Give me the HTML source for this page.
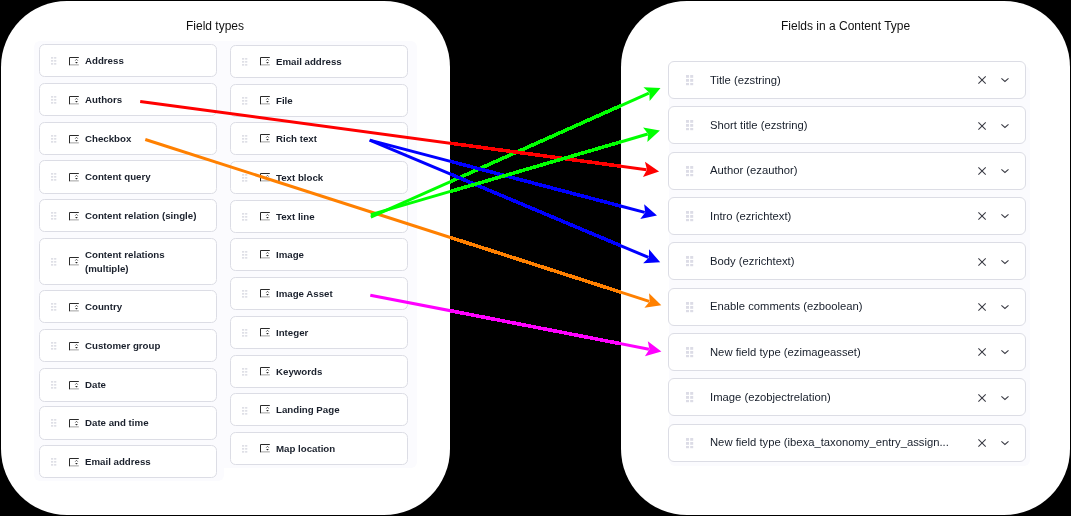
<!DOCTYPE html>
<html><head><meta charset="utf-8"><style>
*{margin:0;padding:0;box-sizing:border-box}
html,body{width:1071px;height:516px;overflow:hidden;background:#000;font-family:"Liberation Sans",sans-serif}
.panel{position:absolute;top:1px;width:449px;height:514px;background:#fff;border-radius:66px}
.ttl{position:absolute;will-change:transform;font-size:12px;color:#111;line-height:14px;white-space:nowrap}
.tint{position:absolute;background:#fbfbfe}
.card{position:absolute;background:#fff;border:1px solid #dcdde5;border-radius:5.5px}
.ab{position:absolute}
.lbl{position:absolute;will-change:transform;font-weight:700;font-size:9.7px;color:#1a202c;line-height:11.6px;white-space:nowrap}
.flbl{position:absolute;will-change:transform;font-size:11.25px;color:#171e2a;line-height:13px;white-space:nowrap}
</style></head><body>

<div class="panel" style="left:1px"></div>
<div class="panel" style="left:621px"></div>
<div class="ttl" style="left:186px;top:18.8px">Field types</div>
<div class="ttl" style="left:780.5px;top:18.8px">Fields in a Content Type</div>
<div class="tint" style="left:34px;top:40.5px;width:190px;height:440px;border-radius:6px"></div>
<div class="tint" style="left:200px;top:40.5px;width:217px;height:427px;border-radius:6px"></div>
<div class="tint" style="left:669px;top:66px;width:361px;height:400px;border-radius:6px"></div>
<div class="card" style="left:39.00px;top:43.80px;width:178px;height:33.60px"></div><svg class="ab" style="left:51.20px;top:57.20px" width="6" height="8" viewBox="0 0 6 8"><g fill="#dedfe6"><rect x="0" y="0" width="2.2" height="1.7"/><rect x="3.1" y="0" width="2.2" height="1.7"/><rect x="0" y="3" width="2.2" height="1.7"/><rect x="3.1" y="3" width="2.2" height="1.7"/><rect x="0" y="6" width="2.2" height="1.7"/><rect x="3.1" y="6" width="2.2" height="1.7"/></g></svg><svg class="ab" style="left:69.10px;top:57.00px" width="11" height="10" viewBox="0 0 11 10"><rect x="0" y="7" width="9.8" height="1.6" fill="#c4c4c4"/><path d="M0.5 8.2V0.5H9.8" fill="none" stroke="#2a2a2a" stroke-width="1"/><path d="M6.3 3.6L7.5 2.3L8.7 3.6" fill="none" stroke="#444" stroke-width="0.9"/><path d="M6.1 4.9H8.9L7.5 6.5Z" fill="#2a2a2a"/></svg><div class="lbl" style="left:84.90px;top:54.88px">Address</div>
<div class="card" style="left:39.00px;top:82.90px;width:178px;height:33.60px"></div><svg class="ab" style="left:51.20px;top:96.30px" width="6" height="8" viewBox="0 0 6 8"><g fill="#dedfe6"><rect x="0" y="0" width="2.2" height="1.7"/><rect x="3.1" y="0" width="2.2" height="1.7"/><rect x="0" y="3" width="2.2" height="1.7"/><rect x="3.1" y="3" width="2.2" height="1.7"/><rect x="0" y="6" width="2.2" height="1.7"/><rect x="3.1" y="6" width="2.2" height="1.7"/></g></svg><svg class="ab" style="left:69.10px;top:96.10px" width="11" height="10" viewBox="0 0 11 10"><rect x="0" y="7" width="9.8" height="1.6" fill="#c4c4c4"/><path d="M0.5 8.2V0.5H9.8" fill="none" stroke="#2a2a2a" stroke-width="1"/><path d="M6.3 3.6L7.5 2.3L8.7 3.6" fill="none" stroke="#444" stroke-width="0.9"/><path d="M6.1 4.9H8.9L7.5 6.5Z" fill="#2a2a2a"/></svg><div class="lbl" style="left:84.90px;top:93.98px">Authors</div>
<div class="card" style="left:39.00px;top:121.90px;width:178px;height:33.60px"></div><svg class="ab" style="left:51.20px;top:135.30px" width="6" height="8" viewBox="0 0 6 8"><g fill="#dedfe6"><rect x="0" y="0" width="2.2" height="1.7"/><rect x="3.1" y="0" width="2.2" height="1.7"/><rect x="0" y="3" width="2.2" height="1.7"/><rect x="3.1" y="3" width="2.2" height="1.7"/><rect x="0" y="6" width="2.2" height="1.7"/><rect x="3.1" y="6" width="2.2" height="1.7"/></g></svg><svg class="ab" style="left:69.10px;top:135.10px" width="11" height="10" viewBox="0 0 11 10"><rect x="0" y="7" width="9.8" height="1.6" fill="#c4c4c4"/><path d="M0.5 8.2V0.5H9.8" fill="none" stroke="#2a2a2a" stroke-width="1"/><path d="M6.3 3.6L7.5 2.3L8.7 3.6" fill="none" stroke="#444" stroke-width="0.9"/><path d="M6.1 4.9H8.9L7.5 6.5Z" fill="#2a2a2a"/></svg><div class="lbl" style="left:84.90px;top:132.98px">Checkbox</div>
<div class="card" style="left:39.00px;top:160.00px;width:178px;height:33.60px"></div><svg class="ab" style="left:51.20px;top:173.40px" width="6" height="8" viewBox="0 0 6 8"><g fill="#dedfe6"><rect x="0" y="0" width="2.2" height="1.7"/><rect x="3.1" y="0" width="2.2" height="1.7"/><rect x="0" y="3" width="2.2" height="1.7"/><rect x="3.1" y="3" width="2.2" height="1.7"/><rect x="0" y="6" width="2.2" height="1.7"/><rect x="3.1" y="6" width="2.2" height="1.7"/></g></svg><svg class="ab" style="left:69.10px;top:173.20px" width="11" height="10" viewBox="0 0 11 10"><rect x="0" y="7" width="9.8" height="1.6" fill="#c4c4c4"/><path d="M0.5 8.2V0.5H9.8" fill="none" stroke="#2a2a2a" stroke-width="1"/><path d="M6.3 3.6L7.5 2.3L8.7 3.6" fill="none" stroke="#444" stroke-width="0.9"/><path d="M6.1 4.9H8.9L7.5 6.5Z" fill="#2a2a2a"/></svg><div class="lbl" style="left:84.90px;top:171.08px">Content query</div>
<div class="card" style="left:39.00px;top:198.90px;width:178px;height:33.60px"></div><svg class="ab" style="left:51.20px;top:212.30px" width="6" height="8" viewBox="0 0 6 8"><g fill="#dedfe6"><rect x="0" y="0" width="2.2" height="1.7"/><rect x="3.1" y="0" width="2.2" height="1.7"/><rect x="0" y="3" width="2.2" height="1.7"/><rect x="3.1" y="3" width="2.2" height="1.7"/><rect x="0" y="6" width="2.2" height="1.7"/><rect x="3.1" y="6" width="2.2" height="1.7"/></g></svg><svg class="ab" style="left:69.10px;top:212.10px" width="11" height="10" viewBox="0 0 11 10"><rect x="0" y="7" width="9.8" height="1.6" fill="#c4c4c4"/><path d="M0.5 8.2V0.5H9.8" fill="none" stroke="#2a2a2a" stroke-width="1"/><path d="M6.3 3.6L7.5 2.3L8.7 3.6" fill="none" stroke="#444" stroke-width="0.9"/><path d="M6.1 4.9H8.9L7.5 6.5Z" fill="#2a2a2a"/></svg><div class="lbl" style="left:84.90px;top:209.98px">Content relation (single)</div>
<div class="card" style="left:39.00px;top:237.90px;width:178px;height:46.80px"></div><svg class="ab" style="left:51.20px;top:257.90px" width="6" height="8" viewBox="0 0 6 8"><g fill="#dedfe6"><rect x="0" y="0" width="2.2" height="1.7"/><rect x="3.1" y="0" width="2.2" height="1.7"/><rect x="0" y="3" width="2.2" height="1.7"/><rect x="3.1" y="3" width="2.2" height="1.7"/><rect x="0" y="6" width="2.2" height="1.7"/><rect x="3.1" y="6" width="2.2" height="1.7"/></g></svg><svg class="ab" style="left:69.10px;top:256.90px" width="11" height="10" viewBox="0 0 11 10"><rect x="0" y="7" width="9.8" height="1.6" fill="#c4c4c4"/><path d="M0.5 8.2V0.5H9.8" fill="none" stroke="#2a2a2a" stroke-width="1"/><path d="M6.3 3.6L7.5 2.3L8.7 3.6" fill="none" stroke="#444" stroke-width="0.9"/><path d="M6.1 4.9H8.9L7.5 6.5Z" fill="#2a2a2a"/></svg><div class="lbl" style="left:84.90px;top:247.80px;line-height:14px">Content relations<br>(multiple)</div>
<div class="card" style="left:39.00px;top:289.80px;width:178px;height:33.60px"></div><svg class="ab" style="left:51.20px;top:303.20px" width="6" height="8" viewBox="0 0 6 8"><g fill="#dedfe6"><rect x="0" y="0" width="2.2" height="1.7"/><rect x="3.1" y="0" width="2.2" height="1.7"/><rect x="0" y="3" width="2.2" height="1.7"/><rect x="3.1" y="3" width="2.2" height="1.7"/><rect x="0" y="6" width="2.2" height="1.7"/><rect x="3.1" y="6" width="2.2" height="1.7"/></g></svg><svg class="ab" style="left:69.10px;top:303.00px" width="11" height="10" viewBox="0 0 11 10"><rect x="0" y="7" width="9.8" height="1.6" fill="#c4c4c4"/><path d="M0.5 8.2V0.5H9.8" fill="none" stroke="#2a2a2a" stroke-width="1"/><path d="M6.3 3.6L7.5 2.3L8.7 3.6" fill="none" stroke="#444" stroke-width="0.9"/><path d="M6.1 4.9H8.9L7.5 6.5Z" fill="#2a2a2a"/></svg><div class="lbl" style="left:84.90px;top:300.88px">Country</div>
<div class="card" style="left:39.00px;top:328.80px;width:178px;height:33.60px"></div><svg class="ab" style="left:51.20px;top:342.20px" width="6" height="8" viewBox="0 0 6 8"><g fill="#dedfe6"><rect x="0" y="0" width="2.2" height="1.7"/><rect x="3.1" y="0" width="2.2" height="1.7"/><rect x="0" y="3" width="2.2" height="1.7"/><rect x="3.1" y="3" width="2.2" height="1.7"/><rect x="0" y="6" width="2.2" height="1.7"/><rect x="3.1" y="6" width="2.2" height="1.7"/></g></svg><svg class="ab" style="left:69.10px;top:342.00px" width="11" height="10" viewBox="0 0 11 10"><rect x="0" y="7" width="9.8" height="1.6" fill="#c4c4c4"/><path d="M0.5 8.2V0.5H9.8" fill="none" stroke="#2a2a2a" stroke-width="1"/><path d="M6.3 3.6L7.5 2.3L8.7 3.6" fill="none" stroke="#444" stroke-width="0.9"/><path d="M6.1 4.9H8.9L7.5 6.5Z" fill="#2a2a2a"/></svg><div class="lbl" style="left:84.90px;top:339.88px">Customer group</div>
<div class="card" style="left:39.00px;top:368.00px;width:178px;height:33.60px"></div><svg class="ab" style="left:51.20px;top:381.40px" width="6" height="8" viewBox="0 0 6 8"><g fill="#dedfe6"><rect x="0" y="0" width="2.2" height="1.7"/><rect x="3.1" y="0" width="2.2" height="1.7"/><rect x="0" y="3" width="2.2" height="1.7"/><rect x="3.1" y="3" width="2.2" height="1.7"/><rect x="0" y="6" width="2.2" height="1.7"/><rect x="3.1" y="6" width="2.2" height="1.7"/></g></svg><svg class="ab" style="left:69.10px;top:381.20px" width="11" height="10" viewBox="0 0 11 10"><rect x="0" y="7" width="9.8" height="1.6" fill="#c4c4c4"/><path d="M0.5 8.2V0.5H9.8" fill="none" stroke="#2a2a2a" stroke-width="1"/><path d="M6.3 3.6L7.5 2.3L8.7 3.6" fill="none" stroke="#444" stroke-width="0.9"/><path d="M6.1 4.9H8.9L7.5 6.5Z" fill="#2a2a2a"/></svg><div class="lbl" style="left:84.90px;top:379.08px">Date</div>
<div class="card" style="left:39.00px;top:406.00px;width:178px;height:33.60px"></div><svg class="ab" style="left:51.20px;top:419.40px" width="6" height="8" viewBox="0 0 6 8"><g fill="#dedfe6"><rect x="0" y="0" width="2.2" height="1.7"/><rect x="3.1" y="0" width="2.2" height="1.7"/><rect x="0" y="3" width="2.2" height="1.7"/><rect x="3.1" y="3" width="2.2" height="1.7"/><rect x="0" y="6" width="2.2" height="1.7"/><rect x="3.1" y="6" width="2.2" height="1.7"/></g></svg><svg class="ab" style="left:69.10px;top:419.20px" width="11" height="10" viewBox="0 0 11 10"><rect x="0" y="7" width="9.8" height="1.6" fill="#c4c4c4"/><path d="M0.5 8.2V0.5H9.8" fill="none" stroke="#2a2a2a" stroke-width="1"/><path d="M6.3 3.6L7.5 2.3L8.7 3.6" fill="none" stroke="#444" stroke-width="0.9"/><path d="M6.1 4.9H8.9L7.5 6.5Z" fill="#2a2a2a"/></svg><div class="lbl" style="left:84.90px;top:417.08px">Date and time</div>
<div class="card" style="left:39.00px;top:444.90px;width:178px;height:33.60px"></div><svg class="ab" style="left:51.20px;top:458.30px" width="6" height="8" viewBox="0 0 6 8"><g fill="#dedfe6"><rect x="0" y="0" width="2.2" height="1.7"/><rect x="3.1" y="0" width="2.2" height="1.7"/><rect x="0" y="3" width="2.2" height="1.7"/><rect x="3.1" y="3" width="2.2" height="1.7"/><rect x="0" y="6" width="2.2" height="1.7"/><rect x="3.1" y="6" width="2.2" height="1.7"/></g></svg><svg class="ab" style="left:69.10px;top:458.10px" width="11" height="10" viewBox="0 0 11 10"><rect x="0" y="7" width="9.8" height="1.6" fill="#c4c4c4"/><path d="M0.5 8.2V0.5H9.8" fill="none" stroke="#2a2a2a" stroke-width="1"/><path d="M6.3 3.6L7.5 2.3L8.7 3.6" fill="none" stroke="#444" stroke-width="0.9"/><path d="M6.1 4.9H8.9L7.5 6.5Z" fill="#2a2a2a"/></svg><div class="lbl" style="left:84.90px;top:455.98px">Email address</div>
<div class="card" style="left:230.00px;top:44.70px;width:178px;height:33.20px"></div><svg class="ab" style="left:242.20px;top:57.90px" width="6" height="8" viewBox="0 0 6 8"><g fill="#dedfe6"><rect x="0" y="0" width="2.2" height="1.7"/><rect x="3.1" y="0" width="2.2" height="1.7"/><rect x="0" y="3" width="2.2" height="1.7"/><rect x="3.1" y="3" width="2.2" height="1.7"/><rect x="0" y="6" width="2.2" height="1.7"/><rect x="3.1" y="6" width="2.2" height="1.7"/></g></svg><svg class="ab" style="left:260.10px;top:56.70px" width="11" height="10" viewBox="0 0 11 10"><rect x="0" y="7" width="9.8" height="1.6" fill="#c4c4c4"/><path d="M0.5 8.2V0.5H9.8" fill="none" stroke="#2a2a2a" stroke-width="1"/><path d="M6.3 3.6L7.5 2.3L8.7 3.6" fill="none" stroke="#444" stroke-width="0.9"/><path d="M6.1 4.9H8.9L7.5 6.5Z" fill="#2a2a2a"/></svg><div class="lbl" style="left:275.90px;top:55.88px">Email address</div>
<div class="card" style="left:230.00px;top:83.70px;width:178px;height:33.20px"></div><svg class="ab" style="left:242.20px;top:96.90px" width="6" height="8" viewBox="0 0 6 8"><g fill="#dedfe6"><rect x="0" y="0" width="2.2" height="1.7"/><rect x="3.1" y="0" width="2.2" height="1.7"/><rect x="0" y="3" width="2.2" height="1.7"/><rect x="3.1" y="3" width="2.2" height="1.7"/><rect x="0" y="6" width="2.2" height="1.7"/><rect x="3.1" y="6" width="2.2" height="1.7"/></g></svg><svg class="ab" style="left:260.10px;top:95.70px" width="11" height="10" viewBox="0 0 11 10"><rect x="0" y="7" width="9.8" height="1.6" fill="#c4c4c4"/><path d="M0.5 8.2V0.5H9.8" fill="none" stroke="#2a2a2a" stroke-width="1"/><path d="M6.3 3.6L7.5 2.3L8.7 3.6" fill="none" stroke="#444" stroke-width="0.9"/><path d="M6.1 4.9H8.9L7.5 6.5Z" fill="#2a2a2a"/></svg><div class="lbl" style="left:275.90px;top:94.88px">File</div>
<div class="card" style="left:230.00px;top:121.90px;width:178px;height:33.20px"></div><svg class="ab" style="left:242.20px;top:135.10px" width="6" height="8" viewBox="0 0 6 8"><g fill="#dedfe6"><rect x="0" y="0" width="2.2" height="1.7"/><rect x="3.1" y="0" width="2.2" height="1.7"/><rect x="0" y="3" width="2.2" height="1.7"/><rect x="3.1" y="3" width="2.2" height="1.7"/><rect x="0" y="6" width="2.2" height="1.7"/><rect x="3.1" y="6" width="2.2" height="1.7"/></g></svg><svg class="ab" style="left:260.10px;top:133.90px" width="11" height="10" viewBox="0 0 11 10"><rect x="0" y="7" width="9.8" height="1.6" fill="#c4c4c4"/><path d="M0.5 8.2V0.5H9.8" fill="none" stroke="#2a2a2a" stroke-width="1"/><path d="M6.3 3.6L7.5 2.3L8.7 3.6" fill="none" stroke="#444" stroke-width="0.9"/><path d="M6.1 4.9H8.9L7.5 6.5Z" fill="#2a2a2a"/></svg><div class="lbl" style="left:275.90px;top:133.08px">Rich text</div>
<div class="card" style="left:230.00px;top:160.90px;width:178px;height:33.20px"></div><svg class="ab" style="left:242.20px;top:174.10px" width="6" height="8" viewBox="0 0 6 8"><g fill="#dedfe6"><rect x="0" y="0" width="2.2" height="1.7"/><rect x="3.1" y="0" width="2.2" height="1.7"/><rect x="0" y="3" width="2.2" height="1.7"/><rect x="3.1" y="3" width="2.2" height="1.7"/><rect x="0" y="6" width="2.2" height="1.7"/><rect x="3.1" y="6" width="2.2" height="1.7"/></g></svg><svg class="ab" style="left:260.10px;top:172.90px" width="11" height="10" viewBox="0 0 11 10"><rect x="0" y="7" width="9.8" height="1.6" fill="#c4c4c4"/><path d="M0.5 8.2V0.5H9.8" fill="none" stroke="#2a2a2a" stroke-width="1"/><path d="M6.3 3.6L7.5 2.3L8.7 3.6" fill="none" stroke="#444" stroke-width="0.9"/><path d="M6.1 4.9H8.9L7.5 6.5Z" fill="#2a2a2a"/></svg><div class="lbl" style="left:275.90px;top:172.08px">Text block</div>
<div class="card" style="left:230.00px;top:199.70px;width:178px;height:33.20px"></div><svg class="ab" style="left:242.20px;top:212.90px" width="6" height="8" viewBox="0 0 6 8"><g fill="#dedfe6"><rect x="0" y="0" width="2.2" height="1.7"/><rect x="3.1" y="0" width="2.2" height="1.7"/><rect x="0" y="3" width="2.2" height="1.7"/><rect x="3.1" y="3" width="2.2" height="1.7"/><rect x="0" y="6" width="2.2" height="1.7"/><rect x="3.1" y="6" width="2.2" height="1.7"/></g></svg><svg class="ab" style="left:260.10px;top:211.70px" width="11" height="10" viewBox="0 0 11 10"><rect x="0" y="7" width="9.8" height="1.6" fill="#c4c4c4"/><path d="M0.5 8.2V0.5H9.8" fill="none" stroke="#2a2a2a" stroke-width="1"/><path d="M6.3 3.6L7.5 2.3L8.7 3.6" fill="none" stroke="#444" stroke-width="0.9"/><path d="M6.1 4.9H8.9L7.5 6.5Z" fill="#2a2a2a"/></svg><div class="lbl" style="left:275.90px;top:210.88px">Text line</div>
<div class="card" style="left:230.00px;top:237.90px;width:178px;height:33.20px"></div><svg class="ab" style="left:242.20px;top:251.10px" width="6" height="8" viewBox="0 0 6 8"><g fill="#dedfe6"><rect x="0" y="0" width="2.2" height="1.7"/><rect x="3.1" y="0" width="2.2" height="1.7"/><rect x="0" y="3" width="2.2" height="1.7"/><rect x="3.1" y="3" width="2.2" height="1.7"/><rect x="0" y="6" width="2.2" height="1.7"/><rect x="3.1" y="6" width="2.2" height="1.7"/></g></svg><svg class="ab" style="left:260.10px;top:249.90px" width="11" height="10" viewBox="0 0 11 10"><rect x="0" y="7" width="9.8" height="1.6" fill="#c4c4c4"/><path d="M0.5 8.2V0.5H9.8" fill="none" stroke="#2a2a2a" stroke-width="1"/><path d="M6.3 3.6L7.5 2.3L8.7 3.6" fill="none" stroke="#444" stroke-width="0.9"/><path d="M6.1 4.9H8.9L7.5 6.5Z" fill="#2a2a2a"/></svg><div class="lbl" style="left:275.90px;top:249.08px">Image</div>
<div class="card" style="left:230.00px;top:277.00px;width:178px;height:33.20px"></div><svg class="ab" style="left:242.20px;top:290.20px" width="6" height="8" viewBox="0 0 6 8"><g fill="#dedfe6"><rect x="0" y="0" width="2.2" height="1.7"/><rect x="3.1" y="0" width="2.2" height="1.7"/><rect x="0" y="3" width="2.2" height="1.7"/><rect x="3.1" y="3" width="2.2" height="1.7"/><rect x="0" y="6" width="2.2" height="1.7"/><rect x="3.1" y="6" width="2.2" height="1.7"/></g></svg><svg class="ab" style="left:260.10px;top:289.00px" width="11" height="10" viewBox="0 0 11 10"><rect x="0" y="7" width="9.8" height="1.6" fill="#c4c4c4"/><path d="M0.5 8.2V0.5H9.8" fill="none" stroke="#2a2a2a" stroke-width="1"/><path d="M6.3 3.6L7.5 2.3L8.7 3.6" fill="none" stroke="#444" stroke-width="0.9"/><path d="M6.1 4.9H8.9L7.5 6.5Z" fill="#2a2a2a"/></svg><div class="lbl" style="left:275.90px;top:288.18px">Image Asset</div>
<div class="card" style="left:230.00px;top:315.90px;width:178px;height:33.20px"></div><svg class="ab" style="left:242.20px;top:329.10px" width="6" height="8" viewBox="0 0 6 8"><g fill="#dedfe6"><rect x="0" y="0" width="2.2" height="1.7"/><rect x="3.1" y="0" width="2.2" height="1.7"/><rect x="0" y="3" width="2.2" height="1.7"/><rect x="3.1" y="3" width="2.2" height="1.7"/><rect x="0" y="6" width="2.2" height="1.7"/><rect x="3.1" y="6" width="2.2" height="1.7"/></g></svg><svg class="ab" style="left:260.10px;top:327.90px" width="11" height="10" viewBox="0 0 11 10"><rect x="0" y="7" width="9.8" height="1.6" fill="#c4c4c4"/><path d="M0.5 8.2V0.5H9.8" fill="none" stroke="#2a2a2a" stroke-width="1"/><path d="M6.3 3.6L7.5 2.3L8.7 3.6" fill="none" stroke="#444" stroke-width="0.9"/><path d="M6.1 4.9H8.9L7.5 6.5Z" fill="#2a2a2a"/></svg><div class="lbl" style="left:275.90px;top:327.08px">Integer</div>
<div class="card" style="left:230.00px;top:354.50px;width:178px;height:33.20px"></div><svg class="ab" style="left:242.20px;top:367.70px" width="6" height="8" viewBox="0 0 6 8"><g fill="#dedfe6"><rect x="0" y="0" width="2.2" height="1.7"/><rect x="3.1" y="0" width="2.2" height="1.7"/><rect x="0" y="3" width="2.2" height="1.7"/><rect x="3.1" y="3" width="2.2" height="1.7"/><rect x="0" y="6" width="2.2" height="1.7"/><rect x="3.1" y="6" width="2.2" height="1.7"/></g></svg><svg class="ab" style="left:260.10px;top:366.50px" width="11" height="10" viewBox="0 0 11 10"><rect x="0" y="7" width="9.8" height="1.6" fill="#c4c4c4"/><path d="M0.5 8.2V0.5H9.8" fill="none" stroke="#2a2a2a" stroke-width="1"/><path d="M6.3 3.6L7.5 2.3L8.7 3.6" fill="none" stroke="#444" stroke-width="0.9"/><path d="M6.1 4.9H8.9L7.5 6.5Z" fill="#2a2a2a"/></svg><div class="lbl" style="left:275.90px;top:365.68px">Keywords</div>
<div class="card" style="left:230.00px;top:393.30px;width:178px;height:33.20px"></div><svg class="ab" style="left:242.20px;top:406.50px" width="6" height="8" viewBox="0 0 6 8"><g fill="#dedfe6"><rect x="0" y="0" width="2.2" height="1.7"/><rect x="3.1" y="0" width="2.2" height="1.7"/><rect x="0" y="3" width="2.2" height="1.7"/><rect x="3.1" y="3" width="2.2" height="1.7"/><rect x="0" y="6" width="2.2" height="1.7"/><rect x="3.1" y="6" width="2.2" height="1.7"/></g></svg><svg class="ab" style="left:260.10px;top:405.30px" width="11" height="10" viewBox="0 0 11 10"><rect x="0" y="7" width="9.8" height="1.6" fill="#c4c4c4"/><path d="M0.5 8.2V0.5H9.8" fill="none" stroke="#2a2a2a" stroke-width="1"/><path d="M6.3 3.6L7.5 2.3L8.7 3.6" fill="none" stroke="#444" stroke-width="0.9"/><path d="M6.1 4.9H8.9L7.5 6.5Z" fill="#2a2a2a"/></svg><div class="lbl" style="left:275.90px;top:404.48px">Landing Page</div>
<div class="card" style="left:230.00px;top:432.00px;width:178px;height:33.20px"></div><svg class="ab" style="left:242.20px;top:445.20px" width="6" height="8" viewBox="0 0 6 8"><g fill="#dedfe6"><rect x="0" y="0" width="2.2" height="1.7"/><rect x="3.1" y="0" width="2.2" height="1.7"/><rect x="0" y="3" width="2.2" height="1.7"/><rect x="3.1" y="3" width="2.2" height="1.7"/><rect x="0" y="6" width="2.2" height="1.7"/><rect x="3.1" y="6" width="2.2" height="1.7"/></g></svg><svg class="ab" style="left:260.10px;top:444.00px" width="11" height="10" viewBox="0 0 11 10"><rect x="0" y="7" width="9.8" height="1.6" fill="#c4c4c4"/><path d="M0.5 8.2V0.5H9.8" fill="none" stroke="#2a2a2a" stroke-width="1"/><path d="M6.3 3.6L7.5 2.3L8.7 3.6" fill="none" stroke="#444" stroke-width="0.9"/><path d="M6.1 4.9H8.9L7.5 6.5Z" fill="#2a2a2a"/></svg><div class="lbl" style="left:275.90px;top:443.18px">Map location</div>
<div class="card" style="left:667.90px;top:61.00px;width:358px;height:38.10px;border-radius:6px"></div><svg class="ab" style="left:685.80px;top:75.00px" width="8" height="11" viewBox="0 0 8 11"><g fill="#dcdce6"><rect x="0" y="0" width="3" height="2.8"/><rect x="4.2" y="0" width="3" height="2.8"/><rect x="0" y="4" width="3" height="2.8"/><rect x="4.2" y="4" width="3" height="2.8"/><rect x="0" y="8" width="3" height="2.2"/><rect x="4.2" y="8" width="3" height="2.2"/></g></svg><div class="flbl" style="left:710.20px;top:73.66px">Title (ezstring)</div><svg class="ab" style="left:978.40px;top:76.40px" width="9" height="9" viewBox="0 0 9 9"><path d="M0.4 0.4L7.7 7.7M7.7 0.4L0.4 7.7" stroke="#3a3b44" stroke-width="1.05" fill="none"/></svg><svg class="ab" style="left:1001.40px;top:78.40px" width="9" height="5" viewBox="0 0 9 5"><path d="M0.4 0.4L3.95 3.5L7.5 0.4" stroke="#3a3b44" stroke-width="1.05" fill="none"/></svg>
<div class="card" style="left:667.90px;top:106.34px;width:358px;height:38.10px;border-radius:6px"></div><svg class="ab" style="left:685.80px;top:120.34px" width="8" height="11" viewBox="0 0 8 11"><g fill="#dcdce6"><rect x="0" y="0" width="3" height="2.8"/><rect x="4.2" y="0" width="3" height="2.8"/><rect x="0" y="4" width="3" height="2.8"/><rect x="4.2" y="4" width="3" height="2.8"/><rect x="0" y="8" width="3" height="2.2"/><rect x="4.2" y="8" width="3" height="2.2"/></g></svg><div class="flbl" style="left:710.20px;top:119.00px">Short title (ezstring)</div><svg class="ab" style="left:978.40px;top:121.74px" width="9" height="9" viewBox="0 0 9 9"><path d="M0.4 0.4L7.7 7.7M7.7 0.4L0.4 7.7" stroke="#3a3b44" stroke-width="1.05" fill="none"/></svg><svg class="ab" style="left:1001.40px;top:123.74px" width="9" height="5" viewBox="0 0 9 5"><path d="M0.4 0.4L3.95 3.5L7.5 0.4" stroke="#3a3b44" stroke-width="1.05" fill="none"/></svg>
<div class="card" style="left:667.90px;top:151.68px;width:358px;height:38.10px;border-radius:6px"></div><svg class="ab" style="left:685.80px;top:165.68px" width="8" height="11" viewBox="0 0 8 11"><g fill="#dcdce6"><rect x="0" y="0" width="3" height="2.8"/><rect x="4.2" y="0" width="3" height="2.8"/><rect x="0" y="4" width="3" height="2.8"/><rect x="4.2" y="4" width="3" height="2.8"/><rect x="0" y="8" width="3" height="2.2"/><rect x="4.2" y="8" width="3" height="2.2"/></g></svg><div class="flbl" style="left:710.20px;top:164.34px">Author (ezauthor)</div><svg class="ab" style="left:978.40px;top:167.08px" width="9" height="9" viewBox="0 0 9 9"><path d="M0.4 0.4L7.7 7.7M7.7 0.4L0.4 7.7" stroke="#3a3b44" stroke-width="1.05" fill="none"/></svg><svg class="ab" style="left:1001.40px;top:169.08px" width="9" height="5" viewBox="0 0 9 5"><path d="M0.4 0.4L3.95 3.5L7.5 0.4" stroke="#3a3b44" stroke-width="1.05" fill="none"/></svg>
<div class="card" style="left:667.90px;top:197.02px;width:358px;height:38.10px;border-radius:6px"></div><svg class="ab" style="left:685.80px;top:211.02px" width="8" height="11" viewBox="0 0 8 11"><g fill="#dcdce6"><rect x="0" y="0" width="3" height="2.8"/><rect x="4.2" y="0" width="3" height="2.8"/><rect x="0" y="4" width="3" height="2.8"/><rect x="4.2" y="4" width="3" height="2.8"/><rect x="0" y="8" width="3" height="2.2"/><rect x="4.2" y="8" width="3" height="2.2"/></g></svg><div class="flbl" style="left:710.20px;top:209.68px">Intro (ezrichtext)</div><svg class="ab" style="left:978.40px;top:212.42px" width="9" height="9" viewBox="0 0 9 9"><path d="M0.4 0.4L7.7 7.7M7.7 0.4L0.4 7.7" stroke="#3a3b44" stroke-width="1.05" fill="none"/></svg><svg class="ab" style="left:1001.40px;top:214.42px" width="9" height="5" viewBox="0 0 9 5"><path d="M0.4 0.4L3.95 3.5L7.5 0.4" stroke="#3a3b44" stroke-width="1.05" fill="none"/></svg>
<div class="card" style="left:667.90px;top:242.36px;width:358px;height:38.10px;border-radius:6px"></div><svg class="ab" style="left:685.80px;top:256.36px" width="8" height="11" viewBox="0 0 8 11"><g fill="#dcdce6"><rect x="0" y="0" width="3" height="2.8"/><rect x="4.2" y="0" width="3" height="2.8"/><rect x="0" y="4" width="3" height="2.8"/><rect x="4.2" y="4" width="3" height="2.8"/><rect x="0" y="8" width="3" height="2.2"/><rect x="4.2" y="8" width="3" height="2.2"/></g></svg><div class="flbl" style="left:710.20px;top:255.02px">Body (ezrichtext)</div><svg class="ab" style="left:978.40px;top:257.76px" width="9" height="9" viewBox="0 0 9 9"><path d="M0.4 0.4L7.7 7.7M7.7 0.4L0.4 7.7" stroke="#3a3b44" stroke-width="1.05" fill="none"/></svg><svg class="ab" style="left:1001.40px;top:259.76px" width="9" height="5" viewBox="0 0 9 5"><path d="M0.4 0.4L3.95 3.5L7.5 0.4" stroke="#3a3b44" stroke-width="1.05" fill="none"/></svg>
<div class="card" style="left:667.90px;top:287.70px;width:358px;height:38.10px;border-radius:6px"></div><svg class="ab" style="left:685.80px;top:301.70px" width="8" height="11" viewBox="0 0 8 11"><g fill="#dcdce6"><rect x="0" y="0" width="3" height="2.8"/><rect x="4.2" y="0" width="3" height="2.8"/><rect x="0" y="4" width="3" height="2.8"/><rect x="4.2" y="4" width="3" height="2.8"/><rect x="0" y="8" width="3" height="2.2"/><rect x="4.2" y="8" width="3" height="2.2"/></g></svg><div class="flbl" style="left:710.20px;top:300.36px">Enable comments (ezboolean)</div><svg class="ab" style="left:978.40px;top:303.10px" width="9" height="9" viewBox="0 0 9 9"><path d="M0.4 0.4L7.7 7.7M7.7 0.4L0.4 7.7" stroke="#3a3b44" stroke-width="1.05" fill="none"/></svg><svg class="ab" style="left:1001.40px;top:305.10px" width="9" height="5" viewBox="0 0 9 5"><path d="M0.4 0.4L3.95 3.5L7.5 0.4" stroke="#3a3b44" stroke-width="1.05" fill="none"/></svg>
<div class="card" style="left:667.90px;top:333.04px;width:358px;height:38.10px;border-radius:6px"></div><svg class="ab" style="left:685.80px;top:347.04px" width="8" height="11" viewBox="0 0 8 11"><g fill="#dcdce6"><rect x="0" y="0" width="3" height="2.8"/><rect x="4.2" y="0" width="3" height="2.8"/><rect x="0" y="4" width="3" height="2.8"/><rect x="4.2" y="4" width="3" height="2.8"/><rect x="0" y="8" width="3" height="2.2"/><rect x="4.2" y="8" width="3" height="2.2"/></g></svg><div class="flbl" style="left:710.20px;top:345.70px">New field type (ezimageasset)</div><svg class="ab" style="left:978.40px;top:348.44px" width="9" height="9" viewBox="0 0 9 9"><path d="M0.4 0.4L7.7 7.7M7.7 0.4L0.4 7.7" stroke="#3a3b44" stroke-width="1.05" fill="none"/></svg><svg class="ab" style="left:1001.40px;top:350.44px" width="9" height="5" viewBox="0 0 9 5"><path d="M0.4 0.4L3.95 3.5L7.5 0.4" stroke="#3a3b44" stroke-width="1.05" fill="none"/></svg>
<div class="card" style="left:667.90px;top:378.38px;width:358px;height:38.10px;border-radius:6px"></div><svg class="ab" style="left:685.80px;top:392.38px" width="8" height="11" viewBox="0 0 8 11"><g fill="#dcdce6"><rect x="0" y="0" width="3" height="2.8"/><rect x="4.2" y="0" width="3" height="2.8"/><rect x="0" y="4" width="3" height="2.8"/><rect x="4.2" y="4" width="3" height="2.8"/><rect x="0" y="8" width="3" height="2.2"/><rect x="4.2" y="8" width="3" height="2.2"/></g></svg><div class="flbl" style="left:710.20px;top:391.04px">Image (ezobjectrelation)</div><svg class="ab" style="left:978.40px;top:393.78px" width="9" height="9" viewBox="0 0 9 9"><path d="M0.4 0.4L7.7 7.7M7.7 0.4L0.4 7.7" stroke="#3a3b44" stroke-width="1.05" fill="none"/></svg><svg class="ab" style="left:1001.40px;top:395.78px" width="9" height="5" viewBox="0 0 9 5"><path d="M0.4 0.4L3.95 3.5L7.5 0.4" stroke="#3a3b44" stroke-width="1.05" fill="none"/></svg>
<div class="card" style="left:667.90px;top:423.72px;width:358px;height:38.10px;border-radius:6px"></div><svg class="ab" style="left:685.80px;top:437.72px" width="8" height="11" viewBox="0 0 8 11"><g fill="#dcdce6"><rect x="0" y="0" width="3" height="2.8"/><rect x="4.2" y="0" width="3" height="2.8"/><rect x="0" y="4" width="3" height="2.8"/><rect x="4.2" y="4" width="3" height="2.8"/><rect x="0" y="8" width="3" height="2.2"/><rect x="4.2" y="8" width="3" height="2.2"/></g></svg><div class="flbl" style="left:710.20px;top:436.38px">New field type (ibexa_taxonomy_entry_assign...</div><svg class="ab" style="left:978.40px;top:439.12px" width="9" height="9" viewBox="0 0 9 9"><path d="M0.4 0.4L7.7 7.7M7.7 0.4L0.4 7.7" stroke="#3a3b44" stroke-width="1.05" fill="none"/></svg><svg class="ab" style="left:1001.40px;top:441.12px" width="9" height="5" viewBox="0 0 9 5"><path d="M0.4 0.4L3.95 3.5L7.5 0.4" stroke="#3a3b44" stroke-width="1.05" fill="none"/></svg>
<svg class="ab" style="left:0;top:0" width="1071" height="516" viewBox="0 0 1071 516">
<defs><clipPath id="cp"><rect x="0" y="0" width="450" height="516"/><rect x="621" y="0" width="450" height="516"/></clipPath><clipPath id="cg"><rect x="450" y="0" width="171" height="516"/></clipPath></defs>
<g clip-path="url(#cp)">
<line x1="145.30" y1="139.50" x2="649.21" y2="301.32" stroke="#ff8000" stroke-width="3"/><polygon points="661.30,305.20 644.41,307.76 649.68,301.47 649.06,293.29" fill="#ff8000"/>
<line x1="370.30" y1="295.20" x2="648.93" y2="349.18" stroke="#ff00ff" stroke-width="3"/><polygon points="661.40,351.60 644.93,356.15 649.42,349.28 647.82,341.23" fill="#ff00ff"/>
<line x1="370.80" y1="217.20" x2="648.90" y2="93.08" stroke="#00ff00" stroke-width="3"/><polygon points="660.50,87.90 649.63,101.08 649.36,92.87 643.43,87.20" fill="#00ff00"/>
<line x1="369.70" y1="140.10" x2="644.72" y2="212.37" stroke="#0000ff" stroke-width="3"/><polygon points="657.00,215.60 640.27,219.06 645.20,212.50 644.13,204.36" fill="#0000ff"/>
<line x1="369.70" y1="140.10" x2="648.49" y2="257.38" stroke="#0000ff" stroke-width="3"/><polygon points="660.20,262.30 643.15,263.37 648.95,257.57 649.04,249.36" fill="#0000ff"/>
<line x1="140.20" y1="101.40" x2="646.51" y2="169.70" stroke="#ff0000" stroke-width="3"/><polygon points="659.10,171.40 642.92,176.89 647.01,169.77 644.95,161.82" fill="#ff0000"/>
<line x1="370.80" y1="214.60" x2="647.71" y2="134.05" stroke="#00ff00" stroke-width="3"/><polygon points="659.90,130.50 647.33,142.07 648.19,133.91 643.09,127.48" fill="#00ff00"/>
</g><g clip-path="url(#cg)" shape-rendering="crispEdges">
<line x1="145.30" y1="139.50" x2="649.21" y2="301.32" stroke="#ff8000" stroke-width="3.6"/>
<line x1="370.30" y1="295.20" x2="648.93" y2="349.18" stroke="#ff00ff" stroke-width="3.6"/>
<line x1="370.80" y1="217.20" x2="648.90" y2="93.08" stroke="#00ff00" stroke-width="3.6"/>
<line x1="369.70" y1="140.10" x2="644.72" y2="212.37" stroke="#0000ff" stroke-width="3.6"/>
<line x1="369.70" y1="140.10" x2="648.49" y2="257.38" stroke="#0000ff" stroke-width="3.6"/>
<line x1="140.20" y1="101.40" x2="646.51" y2="169.70" stroke="#ff0000" stroke-width="3.6"/>
<line x1="370.80" y1="214.60" x2="647.71" y2="134.05" stroke="#00ff00" stroke-width="3.6"/>
</g>
</svg>
</body></html>
